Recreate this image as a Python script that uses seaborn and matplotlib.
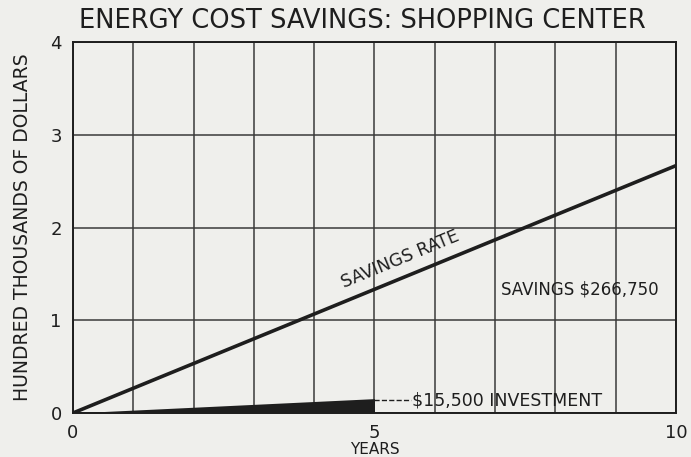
import numpy as np
import pandas as pd
import seaborn as sns
import matplotlib.pyplot as plt

# values (hundred thousands of dollars)
years = [0, 10]
savings = [0, 2.6675]
inv_years = [0, 5]
investment = [0, 0.155]
x_ticks = [0, 5, 10]
y_ticks = [0, 1, 2, 3, 4]

sns.set_theme(style="white")
plt.rcParams['font.family'] = ['DejaVu Sans']

bg = "#efefec"
ink = "#1e1e1e"

fig = plt.figure(figsize=(6.91, 4.57), dpi=100, facecolor=bg)
ax = fig.add_axes([0.1056, 0.0963, 0.8727, 0.8117])
ax.set_facecolor(bg)

df = pd.DataFrame({"year": years, "savings": savings})
sns.lineplot(data=df, x="year", y="savings", ax=ax, color=ink, linewidth=2.6)
ax.fill_between(inv_years, [0, 0], investment, color=ink, linewidth=0)

ax.set_xlim(0, 10)
ax.set_ylim(0, 4)
for v in range(0, 11):
    ax.axvline(v, color="#3a3a3a", linewidth=1.1, zorder=0)
for v in y_ticks:
    ax.axhline(v, color="#3a3a3a", linewidth=1.1, zorder=0)
for s in ax.spines.values():
    s.set_color(ink)
    s.set_linewidth(1.4)

ax.set_xticks(x_ticks)
ax.set_xticklabels([str(t) for t in x_ticks], fontsize=13, color=ink)
ax.set_yticks(y_ticks)
ax.set_yticklabels([str(t) for t in y_ticks], fontsize=13, color=ink)
ax.tick_params(length=0, pad=8)
ax.set_xlabel("YEARS", fontsize=11, color=ink, labelpad=0)
ax.set_ylabel("HUNDRED THOUSANDS OF DOLLARS", fontsize=13.5, color=ink, labelpad=13)

fig.text(0.115, 0.955, "ENERGY COST SAVINGS: SHOPPING CENTER", ha="left", va="center",
         fontsize=18.5, color=ink)

ax.text(5.42, 1.66, "SAVINGS RATE", rotation=22.4, ha="center", va="center",
        fontsize=12.5, color=ink, rotation_mode="anchor")
ax.text(8.4, 1.33, "SAVINGS $266,750", ha="center", va="center", fontsize=12, color=ink)
ax.plot([5, 5.6], [0.135, 0.135], linestyle="--", color=ink, linewidth=1)
ax.text(5.62, 0.135, "$15,500 INVESTMENT", ha="left", va="center", fontsize=12.5, color=ink)

fig.savefig("out.png", dpi=100, facecolor=bg)
